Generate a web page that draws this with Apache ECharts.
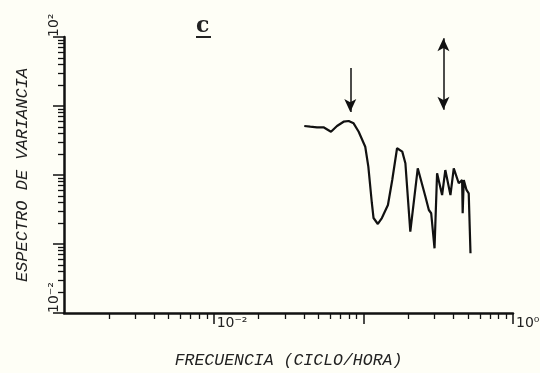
<!DOCTYPE html>
<html>
<head>
<meta charset="utf-8">
<title>Espectro de variancia</title>
<script src="https://cdn.jsdelivr.net/npm/echarts@6/dist/echarts.min.js"></script>
<style>
  html, body { margin: 0; padding: 0; background: #fefef6; }
  #main { width: 540px; height: 373px; }
</style>
</head>
<body>
<div id="main"></div>
<script type="text/javascript">
// frecuencia (ciclo/hora) y espectro
var freq = [0.0403, 0.0442, 0.0490, 0.0542, 0.0608, 0.0667, 0.0738, 0.0798, 0.0861, 0.0931,
    0.103, 0.108, 0.114, 0.117, 0.125, 0.133, 0.146, 0.156, 0.168, 0.182,
    0.191, 0.206, 0.231, 0.260, 0.274, 0.284, 0.299, 0.311, 0.336, 0.353,
    0.382, 0.402, 0.434, 0.457, 0.461, 0.469, 0.489, 0.506, 0.520];
var variancia = [5.13, 5.01, 4.91, 4.91, 4.24, 5.13, 5.92, 6.06, 5.61, 4.24,
    2.57, 1.32, 0.393, 0.238, 0.195, 0.238, 0.367, 0.847, 2.44, 2.18,
    1.48, 0.151, 1.25, 0.485, 0.311, 0.279, 0.0867, 1.06, 0.513, 1.18,
    0.513, 1.25, 0.759, 0.847, 0.279, 0.847, 0.607, 0.543, 0.0733];

var xMajor = [0.01, 0.1, 1];
var xLabels = [0.01, 1];
var yMajor = [0.01, 0.1, 1, 10, 100];
var yLabels = [0.01, 100];
var supers = { '0.01': '10\u207b\u00b2', '1': '10\u2070', '100': '10\u00b2' };

// flechas: pico marcado y barra de confianza
var arrowPico = [[0.0818, 35.6], [0.0818, 8.2]];
var barraConf = [[0.343, 96], [0.343, 8.8]];

function minors(from, to) {
    var out = [];
    for (var d = from; d < to; d *= 10) {
        for (var k = 2; k <= 9; k++) out.push(+(k * d).toPrecision(3));
    }
    return out;
}

var chart = echarts.init(document.getElementById('main'));
var ink = '#111';
var typeFont = { fontFamily: 'Liberation Mono', fontStyle: 'italic', fontSize: 16.5, color: '#222' };

chart.setOption({
    backgroundColor: '#fefef6',
    animation: false,
    grid: { left: 64, right: 27, top: 37, bottom: 60, outerBoundsMode: 'none', containLabel: false },
    xAxis: [{
        type: 'log', logBase: 10, min: 0.001, max: 1, position: 'bottom',
        name: 'FRECUENCIA (CICLO/HORA)', nameLocation: 'middle', nameGap: 39,
        nameTextStyle: typeFont,
        axisLine: { lineStyle: { color: ink, width: 2.5 } },
        axisTick: { customValues: xMajor, length: 11, lineStyle: { color: ink, width: 1.5 } },
        axisLabel: {
            customValues: xLabels, align: 'left', margin: 3, padding: [0, 0, 0, 3],
            fontFamily: 'DejaVu Sans', fontSize: 14, color: '#222',
            formatter: function (v) { return supers[String(v)] || ''; }
        },
        splitLine: { show: false }
    }, {
        type: 'log', logBase: 10, min: 0.001, max: 1, position: 'bottom',
        axisLine: { show: false },
        axisTick: { customValues: minors(0.001, 1), length: 6, lineStyle: { color: ink, width: 1.3 } },
        axisLabel: { show: false },
        splitLine: { show: false }
    }],
    yAxis: [{
        type: 'log', logBase: 10, min: 0.01, max: 100, position: 'left',
        name: 'ESPECTRO DE VARIANCIA', nameLocation: 'middle', nameGap: 33,
        nameTextStyle: { fontFamily: 'Liberation Mono', fontStyle: 'italic', fontSize: 17, color: '#222' },
        axisLine: { lineStyle: { color: ink, width: 2.5 } },
        axisTick: { customValues: yMajor, length: 11, lineStyle: { color: ink, width: 1.5 } },
        axisLabel: {
            customValues: yLabels, rotate: 90, align: 'left', margin: 3,
            fontFamily: 'DejaVu Sans', fontSize: 14, color: '#222',
            formatter: function (v) { return supers[String(v)] || ''; }
        },
        splitLine: { show: false }
    }, {
        type: 'log', logBase: 10, min: 0.01, max: 100, position: 'left',
        axisLine: { show: false },
        axisTick: { customValues: minors(0.01, 100), length: 6, lineStyle: { color: ink, width: 1.3 } },
        axisLabel: { show: false },
        splitLine: { show: false }
    }],
    graphic: [{
        type: 'text', left: 196, top: 15,
        style: { text: 'c', font: 'bold 22px "DejaVu Serif"', fill: '#222' }
    }, {
        type: 'line', shape: { x1: 196, y1: 37, x2: 211, y2: 37 },
        style: { stroke: '#222', lineWidth: 2 }
    }],
    series: [{
        type: 'line',
        data: freq.map(function (f, i) { return [f, variancia[i]]; }),
        showSymbol: false,
        lineStyle: { color: ink, width: 2.2 },
        silent: true,
        markLine: {
            silent: true, animation: false,
            label: { show: false },
            lineStyle: { color: ink, width: 1.5, type: 'solid' },
            symbolSize: [9, 13],
            data: [
                [{ coord: arrowPico[0], symbol: 'none' }, { coord: arrowPico[1], symbol: 'arrow' }],
                [{ coord: barraConf[0], symbol: 'arrow' }, { coord: barraConf[1], symbol: 'arrow' }]
            ]
        }
    }]
});
</script>
</body>
</html>
